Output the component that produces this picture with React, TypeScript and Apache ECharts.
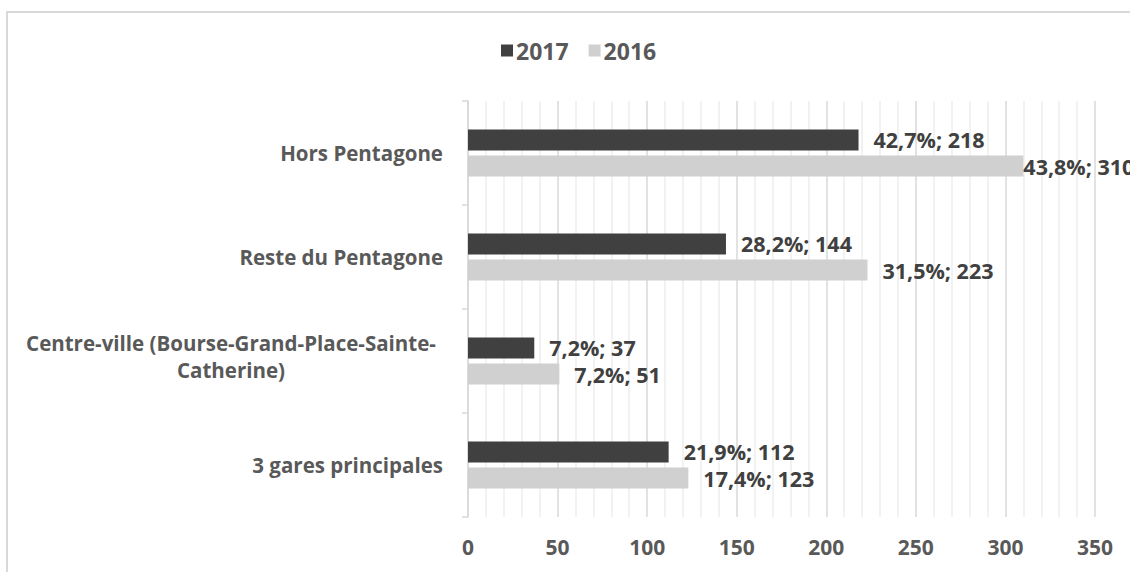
import React, { useEffect, useRef } from "react";
import * as echarts from "echarts";

const categories = [
  "3 gares principales",
  "Centre-ville (Bourse-Grand-Place-Sainte-\nCatherine)",
  "Reste du Pentagone",
  "Hors Pentagone",
];
const values2017 = [112, 37, 144, 218];
const values2016 = [123, 51, 223, 310];
const pct2017 = ["21,9%", "7,2%", "28,2%", "42,7%"];
const pct2016 = ["17,4%", "7,2%", "31,5%", "43,8%"];
const xTicks = [0, 50, 100, 150, 200, 250, 300, 350];

const FONT = "'Open Sans', sans-serif";

export default function App() {
  const ref = useRef<HTMLDivElement>(null);
  useEffect(() => {
    if (!ref.current) return;
    const chart = echarts.init(ref.current, null, { renderer: "svg" });
    const labelStyle = {
      show: true,
      position: "right",
      distance: 15,
      color: "#404040",
      fontFamily: FONT,
      fontWeight: "bold",
      fontSize: 21.5,
    };
    chart.setOption({
      animation: false,
      backgroundColor: "#ffffff",
      textStyle: { fontFamily: FONT },
      graphic: [
        {
          type: "rect",
          shape: { x: 7, y: 12, width: 1200, height: 700 },
          style: { fill: "none", stroke: "#d9d9d9", lineWidth: 2 },
          silent: true,
        },
      ],
      legend: {
        data: ["2017", "2016"],
        left: 496,
        top: 34,
        itemWidth: 12,
        itemHeight: 12,
        itemGap: 20,
        icon: "rect",
        textStyle: {
          color: "#595959",
          fontFamily: FONT,
          fontWeight: "bold",
          fontSize: 23,
          padding: [0, 0, 0, -2],
        },
      },
      grid: { left: 468, top: 101, width: 627, height: 416, containLabel: false },
      xAxis: {
        type: "value",
        min: xTicks[0],
        max: xTicks[xTicks.length - 1],
        interval: 50,
        axisLine: { show: false },
        axisTick: { show: false },
        axisLabel: {
          color: "#595959",
          fontFamily: FONT,
          fontWeight: "bold",
          fontSize: 21,
          margin: 19,
        },
        splitLine: { show: true, lineStyle: { color: "#d9d9d9", width: 1.5 } },
        minorTick: { show: false, splitNumber: 5 },
        minorSplitLine: { show: true, lineStyle: { color: "#eeeeee", width: 1.5 } },
      },
      yAxis: {
        type: "category",
        data: categories.map((c) =>
          c.indexOf("\n") >= 0
            ? { value: c, textStyle: { padding: [0, 0, 10, 0] } }
            : c
        ),
        axisLine: { show: true, lineStyle: { color: "#d9d9d9", width: 1.5 } },
        axisTick: { show: true, length: 6, lineStyle: { color: "#d9d9d9", width: 1.5 } },
        axisLabel: {
          color: "#595959",
          fontFamily: FONT,
          fontWeight: "bold",
          fontSize: 20.5,
          margin: 25,
          lineHeight: 27,
          formatter: (v: string) => {
            if (v.indexOf("\n") >= 0) {
              return v
                .split("\n")
                .map((p) => "{c|" + p + "}")
                .join("\n");
            }
            return v;
          },
          rich: {
            c: {
              width: 424,
              align: "center",
              color: "#595959",
              fontFamily: FONT,
              fontWeight: "bold",
              fontSize: 20.5,
              lineHeight: 27,
            },
          },
        },
      },
      series: [
        {
          name: "2017",
          type: "bar",
          barWidth: 21,
          barGap: "24%",
          itemStyle: { color: "#404040" },
          label: {
            ...labelStyle,
            formatter: (p: any) => pct2017[p.dataIndex] + "; " + values2017[p.dataIndex],
          },
          data: values2017,
        },
        {
          name: "2016",
          type: "bar",
          barWidth: 21,
          barGap: "24%",
          itemStyle: { color: "#d0d0d0" },
          label: {
            ...labelStyle,
            formatter: (p: any) => pct2016[p.dataIndex] + "; " + values2016[p.dataIndex],
          },
          data: values2016.map((v, i) =>
            i === values2016.length - 1 ? { value: v, label: { distance: 0 } } : v
          ),
        },
      ],
    });
    return () => chart.dispose();
  }, []);
  return (
    <div
      ref={ref}
      style={{ position: "fixed", left: 0, top: 0, width: 1130, height: 572 }}
    />
  );
}
